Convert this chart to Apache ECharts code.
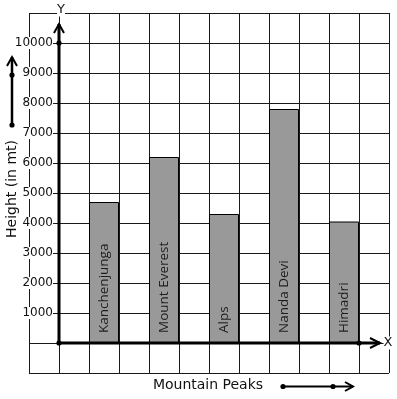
<!DOCTYPE html>
<html><head><meta charset="utf-8">
<script src="https://cdn.jsdelivr.net/npm/echarts@6/dist/echarts.min.js"></script>
<style>html,body{margin:0;padding:0;background:#fff}#c{width:397px;height:399px}</style>
</head><body><div id="c"></div>
<script>
const mountains = ['Kanchenjunga', 'Mount Everest', 'Alps', 'Nanda Devi', 'Himadri'];
const heights = [4700, 6200, 4300, 7800, 4050];
const yTickLabels = [1000, 2000, 3000, 4000, 5000, 6000, 7000, 8000, 9000, 10000];
const yAxisTitle = 'Height (in mt)';
const xAxisTitle = 'Mountain Peaks';

const chart = echarts.init(document.getElementById('c'), null, {renderer: 'canvas'});
const LINE = '#1a1a1a';
chart.setOption({
  animation: false,
  textStyle: {fontFamily: 'DejaVu Sans'},
  grid: [
    {left: 29, top: 13, width: 360, height: 360, containLabel: false, outerBoundsMode: 'none'},
    {left: 74, top: 13, width: 300, height: 360, containLabel: false, outerBoundsMode: 'none'}
  ],
  xAxis: [
    {gridIndex: 0, type: 'value', min: -1, max: 11, interval: 1,
     axisLine: {show: false}, axisTick: {show: false}, axisLabel: {show: false},
     splitLine: {show: true, lineStyle: {color: LINE, width: 1}}},
    {gridIndex: 1, type: 'category', data: mountains,
     axisLine: {show: false}, axisTick: {show: false}, axisLabel: {show: false}, splitLine: {show: false}}
  ],
  yAxis: [
    {gridIndex: 0, type: 'value', min: -1000, max: 11000, interval: 1000, offset: -30,
     axisLine: {show: false}, axisTick: {show: false},
     splitLine: {show: true, lineStyle: {color: LINE, width: 1}},
     axisLabel: {margin: 6, color: '#111', fontSize: 12, fontFamily: 'DejaVu Sans',
       backgroundColor: '#fff', padding: [0, 0, 0, 0],
       formatter: v => yTickLabels.indexOf(v) >= 0 ? String(v) : ''},
     name: yAxisTitle, nameLocation: 'middle', nameRotate: 90, nameGap: 47, nameMoveOverlap: false,
     nameTextStyle: {fontSize: 14, color: '#111', fontFamily: 'DejaVu Sans', verticalAlign: 'middle', padding: [0, 0, 0, 8]}},
    {gridIndex: 1, type: 'value', min: -1000, max: 11000, interval: 1000, show: false}
  ],
  series: [{
    type: 'bar', xAxisIndex: 1, yAxisIndex: 1, data: heights, barWidth: 30,
    itemStyle: {color: '#999999', borderColor: '#000', borderWidth: 1},
    label: {show: true, position: 'insideBottom', rotate: 90, align: 'left', verticalAlign: 'middle',
      distance: 10, formatter: '{b}', color: '#1e1e1e', fontSize: 13.5, fontFamily: 'Open Sans'}
  }]
});

const P = (x, y) => chart.convertToPixel({gridIndex: 0}, [x, y]);
const o = P(0, 0), yTop = P(0, 10630), xEnd = P(10.7, 0), y10k = P(0, 10000), x10 = P(10, 0);
const dot = (x, y) => ({type: 'circle', shape: {cx: x, cy: y, r: 2.6}, style: {fill: '#000'}, z: 20});
const seg = (pts, w) => ({type: 'polyline', shape: {points: pts}, style: {stroke: '#000', lineWidth: w, fill: null}, z: 20});
chart.setOption({
  graphic: [
    seg([[o[0], o[1]], [yTop[0], yTop[1]]], 3),
    seg([[yTop[0] - 5, yTop[1] + 9], [yTop[0], yTop[1]], [yTop[0] + 5, yTop[1] + 9]], 2),
    seg([[o[0], o[1]], [xEnd[0], xEnd[1]]], 3),
    seg([[xEnd[0] - 10, xEnd[1] - 5], [xEnd[0], xEnd[1]], [xEnd[0] - 10, xEnd[1] + 5]], 2),
    dot(o[0], o[1]), dot(y10k[0], y10k[1]), dot(x10[0], x10[1]),
    {type: 'text', style: {text: 'Y', x: yTop[0] + 2, y: 10, fill: '#111', font: '13px "DejaVu Sans"', align: 'center', verticalAlign: 'middle', backgroundColor: '#fff'}, z: 20},
    {type: 'text', style: {text: 'X', x: 388, y: xEnd[1], fill: '#111', font: '13px "DejaVu Sans"', align: 'center', verticalAlign: 'middle', backgroundColor: '#fff'}, z: 20},
    // left vertical arrow
    seg([[12, 125], [12, 57]], 2.5),
    seg([[7, 66], [12, 57], [17, 66]], 2),
    dot(12, 75), dot(12, 125),
    // bottom title and arrow
    {type: 'text', style: {text: xAxisTitle, x: 208, y: 385, fill: '#111', font: '14px "DejaVu Sans"', align: 'center', verticalAlign: 'middle'}, z: 20},
    seg([[283, 386.5], [353, 386.5]], 2),
    seg([[345, 382], [353, 386.5], [345, 391]], 2),
    dot(283, 386.5), dot(333, 386.5)
  ]
});
</script></body></html>
